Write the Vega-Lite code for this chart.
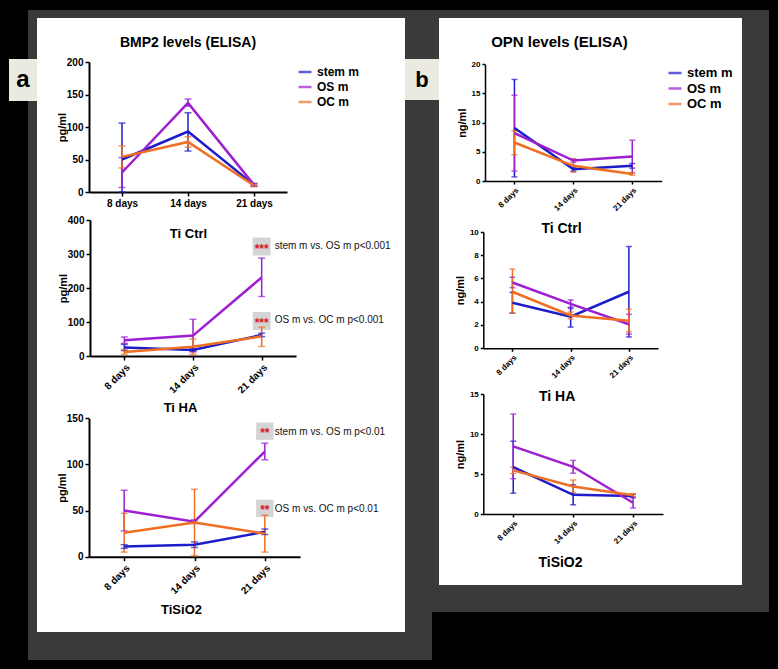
{
"$schema": "https://vega.github.io/schema/vega-lite/v6.json",
"background": "white",
"padding": 0,
"spacing": 0,
"resolve": {"legend": {"color": "independent"}},
"config": {
 "view": {"stroke": null},
 "font": "Liberation Sans",
 "axis": {"grid": false, "domainColor": "#000", "domainWidth": 2, "tickColor": "#000", "tickWidth": 1.5, "tickSize": 4, "labelColor": "#000", "labelFontWeight": "bold", "titleFontWeight": "bold", "titleColor": "#000", "labelPadding": 2, "labelOverlap": false, "titleBaseline": "middle", "titleAlign": "center"},
 "title": {"fontWeight": "bold", "color": "#000"},
 "legend": {"labelFontWeight": "bold", "labelColor": "#000"},
 "concat": {"spacing": 0}
},
"datasets": {
 "elisa": [
  {"panel":"A1","group":"stem m","day":"8 days","mean":50,"lo":0,"hi":106},
  {"panel":"A1","group":"stem m","day":"14 days","mean":93,"lo":63,"hi":122},
  {"panel":"A1","group":"stem m","day":"21 days","mean":11,"lo":9,"hi":13},
  {"panel":"A1","group":"OS m","day":"8 days","mean":30,"lo":7,"hi":53},
  {"panel":"A1","group":"OS m","day":"14 days","mean":137,"lo":132,"hi":143},
  {"panel":"A1","group":"OS m","day":"21 days","mean":11,"lo":9,"hi":13},
  {"panel":"A1","group":"OC m","day":"8 days","mean":54,"lo":37,"hi":71},
  {"panel":"A1","group":"OC m","day":"14 days","mean":77,"lo":69,"hi":85},
  {"panel":"A1","group":"OC m","day":"21 days","mean":10,"lo":8,"hi":12},
  {"panel":"A2","group":"stem m","day":"8 days","mean":25,"lo":16,"hi":34},
  {"panel":"A2","group":"stem m","day":"14 days","mean":18,"lo":14,"hi":22},
  {"panel":"A2","group":"stem m","day":"21 days","mean":62,"lo":57,"hi":67},
  {"panel":"A2","group":"OS m","day":"8 days","mean":46,"lo":37,"hi":56},
  {"panel":"A2","group":"OS m","day":"14 days","mean":60,"lo":12,"hi":108},
  {"panel":"A2","group":"OS m","day":"21 days","mean":231,"lo":175,"hi":288},
  {"panel":"A2","group":"OC m","day":"8 days","mean":12,"lo":5,"hi":19},
  {"panel":"A2","group":"OC m","day":"14 days","mean":27,"lo":5,"hi":50},
  {"panel":"A2","group":"OC m","day":"21 days","mean":58,"lo":28,"hi":85},
  {"panel":"A3","group":"stem m","day":"8 days","mean":11,"lo":9,"hi":13},
  {"panel":"A3","group":"stem m","day":"14 days","mean":13,"lo":10,"hi":16},
  {"panel":"A3","group":"stem m","day":"21 days","mean":27,"lo":24,"hi":30},
  {"panel":"A3","group":"OS m","day":"8 days","mean":50,"lo":28,"hi":72},
  {"panel":"A3","group":"OS m","day":"14 days","mean":38,"lo":36,"hi":40},
  {"panel":"A3","group":"OS m","day":"21 days","mean":114,"lo":105,"hi":123},
  {"panel":"A3","group":"OC m","day":"8 days","mean":26,"lo":5,"hi":47},
  {"panel":"A3","group":"OC m","day":"14 days","mean":37,"lo":1,"hi":73},
  {"panel":"A3","group":"OC m","day":"21 days","mean":25,"lo":5,"hi":45},
  {"panel":"B1","group":"stem m","day":"8 days","mean":9.1,"lo":0.7,"hi":17.4},
  {"panel":"B1","group":"stem m","day":"14 days","mean":2.0,"lo":1.7,"hi":2.3},
  {"panel":"B1","group":"stem m","day":"21 days","mean":2.6,"lo":2.2,"hi":3.0},
  {"panel":"B1","group":"OS m","day":"8 days","mean":8.2,"lo":1.7,"hi":14.7},
  {"panel":"B1","group":"OS m","day":"14 days","mean":3.5,"lo":3.2,"hi":3.8},
  {"panel":"B1","group":"OS m","day":"21 days","mean":4.2,"lo":1.4,"hi":7.0},
  {"panel":"B1","group":"OC m","day":"8 days","mean":6.6,"lo":4.5,"hi":8.6},
  {"panel":"B1","group":"OC m","day":"14 days","mean":2.6,"lo":1.5,"hi":3.8},
  {"panel":"B1","group":"OC m","day":"21 days","mean":1.2,"lo":1.0,"hi":1.4},
  {"panel":"B2","group":"stem m","day":"8 days","mean":3.9,"lo":3.0,"hi":4.8},
  {"panel":"B2","group":"stem m","day":"14 days","mean":2.7,"lo":1.8,"hi":3.5},
  {"panel":"B2","group":"stem m","day":"21 days","mean":4.85,"lo":0.95,"hi":8.75},
  {"panel":"B2","group":"OS m","day":"8 days","mean":5.65,"lo":5.2,"hi":6.1},
  {"panel":"B2","group":"OS m","day":"14 days","mean":3.8,"lo":3.4,"hi":4.15},
  {"panel":"B2","group":"OS m","day":"21 days","mean":2.05,"lo":1.2,"hi":2.9},
  {"panel":"B2","group":"OC m","day":"8 days","mean":4.85,"lo":3.0,"hi":6.8},
  {"panel":"B2","group":"OC m","day":"14 days","mean":2.8,"lo":2.5,"hi":3.1},
  {"panel":"B2","group":"OC m","day":"21 days","mean":2.35,"lo":1.4,"hi":3.35},
  {"panel":"B3","group":"stem m","day":"8 days","mean":5.85,"lo":2.6,"hi":9.1},
  {"panel":"B3","group":"stem m","day":"14 days","mean":2.4,"lo":1.15,"hi":3.65},
  {"panel":"B3","group":"stem m","day":"21 days","mean":2.25,"lo":2.05,"hi":2.45},
  {"panel":"B3","group":"OS m","day":"8 days","mean":8.45,"lo":4.4,"hi":12.5},
  {"panel":"B3","group":"OS m","day":"14 days","mean":5.9,"lo":5.1,"hi":6.7},
  {"panel":"B3","group":"OS m","day":"21 days","mean":1.4,"lo":0.75,"hi":2.05},
  {"panel":"B3","group":"OC m","day":"8 days","mean":5.45,"lo":5.05,"hi":5.85},
  {"panel":"B3","group":"OC m","day":"14 days","mean":3.45,"lo":2.7,"hi":4.25},
  {"panel":"B3","group":"OC m","day":"21 days","mean":2.35,"lo":2.15,"hi":2.55}
 ],
 "notes": [
  {"panel":"A2","day":"21 days","ny":322,"stars":"***","label":"stem m vs. OS m p<0.001"},
  {"panel":"A2","day":"21 days","ny":103,"stars":"***","label":"OS m vs. OC m p<0.001"},
  {"panel":"A3","day":"21 days","ny":136,"stars":"**","label":"stem m vs. OS m p<0.01"},
  {"panel":"A3","day":"21 days","ny":52.4,"stars":"**","label":"OS m vs. OC m p<0.01"}
 ]
},
"hconcat": [
 {"vconcat": [
   {"width": 37, "height": 10, "data": {"values": [{}]}, "mark": {"type": "point", "opacity": 0}, "view": {"fill": "#000", "stroke": null}},
   {"hconcat": [
     {"width": 28, "height": 49, "data": {"values": [{}]}, "mark": {"type": "point", "opacity": 0}, "view": {"fill": "#000", "stroke": null}},
     {"width": 9, "height": 49, "data": {"values": [{}]}, "mark": {"type": "point", "opacity": 0}, "view": {"fill": "#3a3a3a", "stroke": null}}
   ], "spacing": 0, "bounds": "flush"},
   {"hconcat": [
     {"width": 9, "height": 42, "data": {"values": [{}]}, "mark": {"type": "point", "opacity": 0}, "view": {"fill": "#000", "stroke": null}},
     {"width": 28, "height": 42, "data": {"values": [{"t": "a"}]}, "mark": {"type": "text", "fontSize": 24, "fontWeight": "bold", "color": "#000"}, "encoding": {"text": {"field": "t"}}, "view": {"fill": "#ebeae0", "stroke": null}}
   ], "spacing": 0, "bounds": "flush"},
   {"hconcat": [
     {"width": 28, "height": 559, "data": {"values": [{}]}, "mark": {"type": "point", "opacity": 0}, "view": {"fill": "#000", "stroke": null}},
     {"width": 9, "height": 559, "data": {"values": [{}]}, "mark": {"type": "point", "opacity": 0}, "view": {"fill": "#3a3a3a", "stroke": null}}
   ], "spacing": 0, "bounds": "flush"},
   {"width": 37, "height": 9, "data": {"values": [{}]}, "mark": {"type": "point", "opacity": 0}, "view": {"fill": "#000", "stroke": null}}
 ], "spacing": 0},
 {"vconcat": [
   {"width": 368, "height": 10, "data": {"values": [{}]}, "mark": {"type": "point", "opacity": 0}, "view": {"fill": "#000", "stroke": null}},
   {"width": 368, "height": 8, "data": {"values": [{}]}, "mark": {"type": "point", "opacity": 0}, "view": {"fill": "#3a3a3a", "stroke": null}},
   {"width": 368, "height": 196,
    "data": {"name": "elisa"},
    "transform": [{"filter": "datum.panel == 'A1'"}],
    "title": {"text": "BMP2 levels (ELISA)", "fontSize": 14, "frame": "group", "anchor": "middle", "dx": -33, "offset": -32},
    "encoding": {
     "x": {"field": "day", "type": "nominal", "sort": ["8 days","14 days","21 days"],
       "scale": {"type": "point", "domain": ["8 days","14 days","21 days"], "range": [52, 250], "padding": 0.5},
       "axis": {"orient": "bottom", "offset": -22, "labelAngle": 0, "labelFontSize": 10, "title": "Ti Ctrl", "titleFontSize": 13, "titleX": 151, "titleY": 41}},
     "color": {"field": "group", "type": "nominal", "scale": {"domain": ["stem m","OS m","OC m"], "range": ["#1c1cc9","#9d1fd1","#ef6e22"]},
       "legend": {"orient": "none", "legendX": 260, "legendY": 46, "title": null, "symbolType": "stroke", "symbolSize": 169, "symbolStrokeWidth": 2.5, "labelFontSize": 12, "rowPadding": 1}}
    },
    "layer": [
     {"mark": {"type": "rule", "strokeWidth": 1.5}, "encoding": {"y": {"field": "lo", "type": "quantitative", "scale": {"domain": [0, 200], "range": [174, 44], "nice": false, "zero": false}, "axis": {"orient": "left", "offset": -52, "values": [0,50,100,150,200], "tickCount": 20, "format": "d", "labelOverlap": false, "labelFontSize": 10, "title": "pg/ml", "titleFontSize": 11, "titleX": -27, "titleY": 109}}, "y2": {"field": "hi"}}},
     {"mark": {"type": "tick", "thickness": 1.5, "size": 7}, "encoding": {"y": {"field": "lo", "type": "quantitative"}}},
     {"mark": {"type": "tick", "thickness": 1.5, "size": 7}, "encoding": {"y": {"field": "hi", "type": "quantitative"}}},
     {"mark": {"type": "line", "strokeWidth": 2.5}, "encoding": {"y": {"field": "mean", "type": "quantitative"}}}
    ]
   },
   {"width": 368, "height": 202,
    "data": {"name": "elisa"},
    "transform": [{"filter": "datum.panel == 'A2'"}],
    "encoding": {
     "x": {"field": "day", "type": "nominal", "sort": ["8 days","14 days","21 days"],
       "scale": {"type": "point", "domain": ["8 days","14 days","21 days"], "range": [53, 259], "padding": 0.5},
       "axis": {"orient": "bottom", "offset": -60, "labelAngle": -45, "labelFontSize": 10, "title": "Ti HA", "titleFontSize": 13, "titleX": 143, "titleY": 51}},
     "color": {"field": "group", "type": "nominal", "scale": {"domain": ["stem m","OS m","OC m"], "range": ["#1c1cc9","#9d1fd1","#ef6e22"]}, "legend": null}
    },
    "layer": [
     {"data": {"name": "notes"}, "transform": [{"filter": "datum.panel == 'A2'"}], "mark": {"type": "point", "shape": "square", "filled": true, "size": 324, "opacity": 1}, "encoding": {"y": {"field": "ny", "type": "quantitative"}, "color": {"value": "#d4d4d4"}}},
     {"mark": {"type": "rule", "strokeWidth": 1.5}, "encoding": {"y": {"field": "lo", "type": "quantitative", "scale": {"domain": [0, 400], "range": [142, 6], "nice": false, "zero": false}, "axis": {"orient": "left", "offset": -53, "values": [0,100,200,300,400], "tickCount": 20, "format": "d", "labelOverlap": false, "labelFontSize": 10, "title": "pg/ml", "titleFontSize": 11, "titleX": -27, "titleY": 74}}, "y2": {"field": "hi"}}},
     {"mark": {"type": "tick", "thickness": 1.5, "size": 7}, "encoding": {"y": {"field": "lo", "type": "quantitative"}}},
     {"mark": {"type": "tick", "thickness": 1.5, "size": 7}, "encoding": {"y": {"field": "hi", "type": "quantitative"}}},
     {"mark": {"type": "line", "strokeWidth": 2.5}, "encoding": {"y": {"field": "mean", "type": "quantitative"}}},
     {"data": {"name": "notes"}, "transform": [{"filter": "datum.panel == 'A2'"}], "mark": {"type": "text", "fontSize": 12, "fontWeight": "bold", "baseline": "middle", "dy": 2}, "encoding": {"y": {"field": "ny", "type": "quantitative"}, "text": {"field": "stars"}, "color": {"value": "#d7191c"}}},
     {"data": {"name": "notes"}, "transform": [{"filter": "datum.panel == 'A2'"}], "mark": {"type": "text", "fontSize": 10, "align": "left", "baseline": "middle", "dx": 13, "dy": -1}, "encoding": {"y": {"field": "ny", "type": "quantitative"}, "text": {"field": "label"}, "color": {"value": "#111"}}}
    ]
   },
   {"width": 368, "height": 216,
    "data": {"name": "elisa"},
    "transform": [{"filter": "datum.panel == 'A3'"}],
    "encoding": {
     "x": {"field": "day", "type": "nominal", "sort": ["8 days","14 days","21 days"],
       "scale": {"type": "point", "domain": ["8 days","14 days","21 days"], "range": [52, 263], "padding": 0.5},
       "axis": {"orient": "bottom", "offset": -75.3, "labelAngle": -45, "labelFontSize": 10, "title": "TiSiO2", "titleFontSize": 13, "titleX": 144, "titleY": 52.6}},
     "color": {"field": "group", "type": "nominal", "scale": {"domain": ["stem m","OS m","OC m"], "range": ["#1c1cc9","#9d1fd1","#ef6e22"]}, "legend": null}
    },
    "layer": [
     {"data": {"name": "notes"}, "transform": [{"filter": "datum.panel == 'A3'"}], "mark": {"type": "point", "shape": "square", "filled": true, "size": 300, "opacity": 1}, "encoding": {"y": {"field": "ny", "type": "quantitative"}, "color": {"value": "#d4d4d4"}}},
     {"mark": {"type": "rule", "strokeWidth": 1.5}, "encoding": {"y": {"field": "lo", "type": "quantitative", "scale": {"domain": [0, 150], "range": [140.7, 2.3], "nice": false, "zero": false}, "axis": {"orient": "left", "offset": -52, "values": [0,50,100,150], "tickCount": 20, "format": "d", "labelOverlap": false, "labelFontSize": 10, "title": "pg/ml", "titleFontSize": 11, "titleX": -27, "titleY": 71.5}}, "y2": {"field": "hi"}}},
     {"mark": {"type": "tick", "thickness": 1.5, "size": 7}, "encoding": {"y": {"field": "lo", "type": "quantitative"}}},
     {"mark": {"type": "tick", "thickness": 1.5, "size": 7}, "encoding": {"y": {"field": "hi", "type": "quantitative"}}},
     {"mark": {"type": "line", "strokeWidth": 2.5}, "encoding": {"y": {"field": "mean", "type": "quantitative"}}},
     {"data": {"name": "notes"}, "transform": [{"filter": "datum.panel == 'A3'"}], "mark": {"type": "text", "fontSize": 12, "fontWeight": "bold", "baseline": "middle", "dy": 2}, "encoding": {"y": {"field": "ny", "type": "quantitative"}, "text": {"field": "stars"}, "color": {"value": "#d7191c"}}},
     {"data": {"name": "notes"}, "transform": [{"filter": "datum.panel == 'A3'"}], "mark": {"type": "text", "fontSize": 10, "align": "left", "baseline": "middle", "dx": 10, "dy": 1}, "encoding": {"y": {"field": "ny", "type": "quantitative"}, "text": {"field": "label"}, "color": {"value": "#111"}}}
    ]
   },
   {"width": 368, "height": 28, "data": {"values": [{}]}, "mark": {"type": "point", "opacity": 0}, "view": {"fill": "#3a3a3a", "stroke": null}},
   {"width": 368, "height": 9, "data": {"values": [{}]}, "mark": {"type": "point", "opacity": 0}, "view": {"fill": "#000", "stroke": null}}
 ], "spacing": 0, "bounds": "flush", "resolve": {"legend": {"color": "independent"}}},
 {"vconcat": [
   {"width": 34, "height": 10, "data": {"values": [{}]}, "mark": {"type": "point", "opacity": 0}, "view": {"fill": "#000", "stroke": null}},
   {"width": 34, "height": 49, "data": {"values": [{}]}, "mark": {"type": "point", "opacity": 0}, "view": {"fill": "#3a3a3a", "stroke": null}},
   {"width": 34, "height": 41, "data": {"values": [{"t": "b"}]}, "mark": {"type": "text", "fontSize": 22, "fontWeight": "bold", "color": "#000"}, "encoding": {"text": {"field": "t"}}, "view": {"fill": "#ebeae0", "stroke": null}},
   {"width": 34, "height": 512, "data": {"values": [{}]}, "mark": {"type": "point", "opacity": 0}, "view": {"fill": "#3a3a3a", "stroke": null}},
   {"hconcat": [
     {"width": 27, "height": 48, "data": {"values": [{}]}, "mark": {"type": "point", "opacity": 0}, "view": {"fill": "#3a3a3a", "stroke": null}},
     {"width": 7, "height": 48, "data": {"values": [{}]}, "mark": {"type": "point", "opacity": 0}, "view": {"fill": "#000", "stroke": null}}
   ], "spacing": 0, "bounds": "flush"},
   {"width": 34, "height": 9, "data": {"values": [{}]}, "mark": {"type": "point", "opacity": 0}, "view": {"fill": "#000", "stroke": null}}
 ], "spacing": 0},
 {"vconcat": [
   {"width": 303, "height": 10, "data": {"values": [{}]}, "mark": {"type": "point", "opacity": 0}, "view": {"fill": "#000", "stroke": null}},
   {"width": 303, "height": 8, "data": {"values": [{}]}, "mark": {"type": "point", "opacity": 0}, "view": {"fill": "#3a3a3a", "stroke": null}},
   {"width": 303, "height": 194,
    "data": {"name": "elisa"},
    "transform": [{"filter": "datum.panel == 'B1'"}],
    "title": {"text": "OPN levels (ELISA)", "fontSize": 15, "frame": "group", "anchor": "middle", "dx": -31, "offset": -32},
    "encoding": {
     "x": {"field": "day", "type": "nominal", "sort": ["8 days","14 days","21 days"],
       "scale": {"type": "point", "domain": ["8 days","14 days","21 days"], "range": [46, 222.7], "padding": 0.5},
       "axis": {"orient": "bottom", "offset": -31, "labelAngle": -45, "labelFontSize": 8, "tickSize": 3, "domainWidth": 1.5, "title": "Ti Ctrl", "titleFontSize": 14, "titleX": 122, "titleY": 47}},
     "color": {"field": "group", "type": "nominal", "scale": {"domain": ["stem m","OS m","OC m"], "range": ["#1c1cc9","#9d1fd1","#ef6e22"]},
       "legend": {"orient": "none", "legendX": 228, "legendY": 47, "title": null, "symbolType": "stroke", "symbolSize": 169, "symbolStrokeWidth": 2.5, "labelFontSize": 13, "rowPadding": 0.5}}
    },
    "layer": [
     {"mark": {"type": "rule", "strokeWidth": 1.5}, "encoding": {"y": {"field": "lo", "type": "quantitative", "scale": {"domain": [0, 20], "range": [163, 46.3], "nice": false, "zero": false}, "axis": {"orient": "left", "offset": -46, "values": [0,5,10,15,20], "tickCount": 20, "format": "d", "labelOverlap": false, "labelFontSize": 8, "tickSize": 3, "domainWidth": 1.5, "title": "ng/ml", "titleFontSize": 11, "titleX": -23, "titleY": 104.7}}, "y2": {"field": "hi"}}},
     {"mark": {"type": "tick", "thickness": 1.5, "size": 6}, "encoding": {"y": {"field": "lo", "type": "quantitative"}}},
     {"mark": {"type": "tick", "thickness": 1.5, "size": 6}, "encoding": {"y": {"field": "hi", "type": "quantitative"}}},
     {"mark": {"type": "line", "strokeWidth": 2.5}, "encoding": {"y": {"field": "mean", "type": "quantitative"}}}
    ]
   },
   {"width": 303, "height": 176,
    "data": {"name": "elisa"},
    "transform": [{"filter": "datum.panel == 'B2'"}],
    "encoding": {
     "x": {"field": "day", "type": "nominal", "sort": ["8 days","14 days","21 days"],
       "scale": {"type": "point", "domain": ["8 days","14 days","21 days"], "range": [44.3, 219], "padding": 0.5},
       "axis": {"orient": "bottom", "offset": -39.7, "labelAngle": -45, "labelFontSize": 8, "tickSize": 3, "domainWidth": 1.5, "title": "Ti HA", "titleFontSize": 14, "titleX": 117.7, "titleY": 47.7}},
     "color": {"field": "group", "type": "nominal", "scale": {"domain": ["stem m","OS m","OC m"], "range": ["#1c1cc9","#9d1fd1","#ef6e22"]}, "legend": null}
    },
    "layer": [
     {"mark": {"type": "rule", "strokeWidth": 1.5}, "encoding": {"y": {"field": "lo", "type": "quantitative", "scale": {"domain": [0, 10], "range": [136, 20], "nice": false, "zero": false}, "axis": {"orient": "left", "offset": -44.3, "values": [0,2,4,6,8,10], "tickCount": 20, "format": "d", "labelOverlap": false, "labelFontSize": 8, "tickSize": 3, "domainWidth": 1.5, "title": "ng/ml", "titleFontSize": 11, "titleX": -23, "titleY": 78}}, "y2": {"field": "hi"}}},
     {"mark": {"type": "tick", "thickness": 1.5, "size": 6}, "encoding": {"y": {"field": "lo", "type": "quantitative"}}},
     {"mark": {"type": "tick", "thickness": 1.5, "size": 6}, "encoding": {"y": {"field": "hi", "type": "quantitative"}}},
     {"mark": {"type": "line", "strokeWidth": 2.5}, "encoding": {"y": {"field": "mean", "type": "quantitative"}}}
    ]
   },
   {"width": 303, "height": 197,
    "data": {"name": "elisa"},
    "transform": [{"filter": "datum.panel == 'B3'"}],
    "encoding": {
     "x": {"field": "day", "type": "nominal", "sort": ["8 days","14 days","21 days"],
       "scale": {"type": "point", "domain": ["8 days","14 days","21 days"], "range": [44.3, 224], "padding": 0.5},
       "axis": {"orient": "bottom", "offset": -71, "labelAngle": -45, "labelFontSize": 8, "tickSize": 3, "domainWidth": 1.5, "title": "TiSiO2", "titleFontSize": 14, "titleX": 121, "titleY": 48.3}},
     "color": {"field": "group", "type": "nominal", "scale": {"domain": ["stem m","OS m","OC m"], "range": ["#1c1cc9","#9d1fd1","#ef6e22"]}, "legend": null}
    },
    "layer": [
     {"mark": {"type": "rule", "strokeWidth": 1.5}, "encoding": {"y": {"field": "lo", "type": "quantitative", "scale": {"domain": [0, 15], "range": [126, 6], "nice": false, "zero": false}, "axis": {"orient": "left", "offset": -44.3, "values": [0,5,10,15], "tickCount": 20, "format": "d", "labelOverlap": false, "labelFontSize": 8, "tickSize": 3, "domainWidth": 1.5, "title": "ng/ml", "titleFontSize": 11, "titleX": -23, "titleY": 66}}, "y2": {"field": "hi"}}},
     {"mark": {"type": "tick", "thickness": 1.5, "size": 6}, "encoding": {"y": {"field": "lo", "type": "quantitative"}}},
     {"mark": {"type": "tick", "thickness": 1.5, "size": 6}, "encoding": {"y": {"field": "hi", "type": "quantitative"}}},
     {"mark": {"type": "line", "strokeWidth": 2.5}, "encoding": {"y": {"field": "mean", "type": "quantitative"}}}
    ]
   },
   {"width": 303, "height": 27, "data": {"values": [{}]}, "mark": {"type": "point", "opacity": 0}, "view": {"fill": "#3a3a3a", "stroke": null}},
   {"width": 303, "height": 57, "data": {"values": [{}]}, "mark": {"type": "point", "opacity": 0}, "view": {"fill": "#000", "stroke": null}}
 ], "spacing": 0, "bounds": "flush", "resolve": {"legend": {"color": "independent"}}},
 {"vconcat": [
   {"width": 36, "height": 10, "data": {"values": [{}]}, "mark": {"type": "point", "opacity": 0}, "view": {"fill": "#000", "stroke": null}},
   {"hconcat": [
     {"width": 27, "height": 602, "data": {"values": [{}]}, "mark": {"type": "point", "opacity": 0}, "view": {"fill": "#3a3a3a", "stroke": null}},
     {"width": 9, "height": 602, "data": {"values": [{}]}, "mark": {"type": "point", "opacity": 0}, "view": {"fill": "#000", "stroke": null}}
   ], "spacing": 0, "bounds": "flush"},
   {"width": 36, "height": 57, "data": {"values": [{}]}, "mark": {"type": "point", "opacity": 0}, "view": {"fill": "#000", "stroke": null}}
 ], "spacing": 0}
]
}
